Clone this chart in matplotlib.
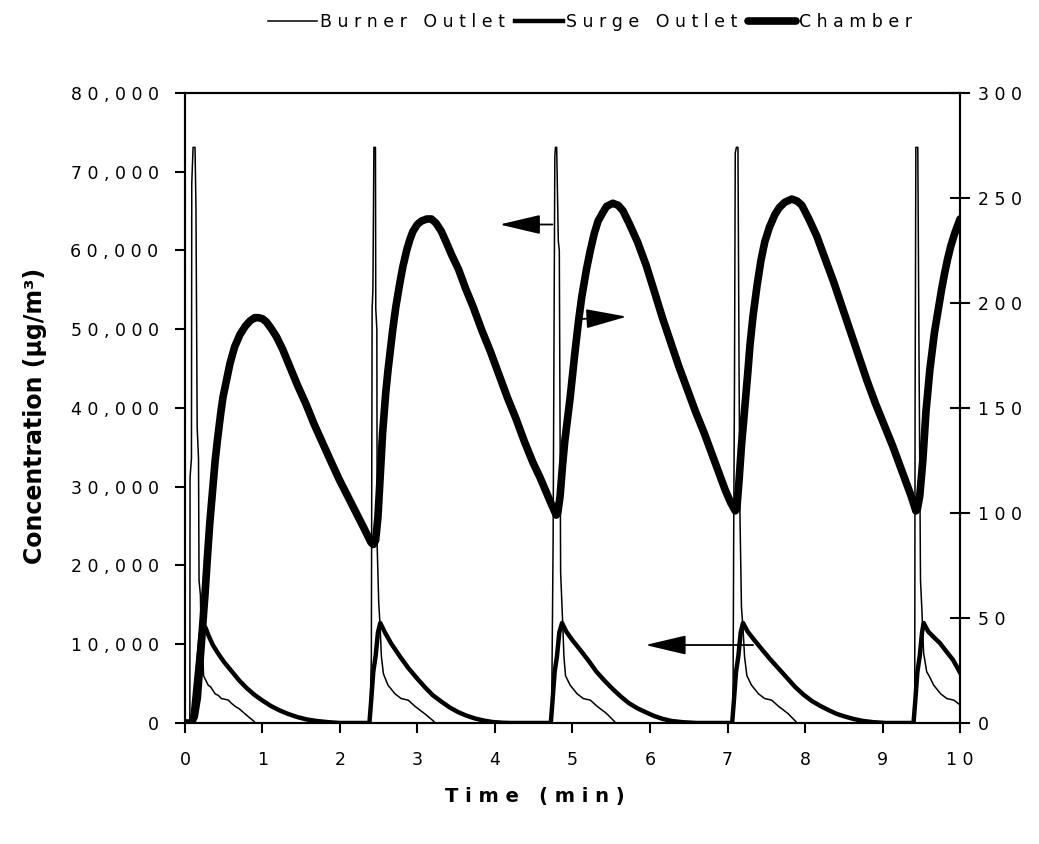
import matplotlib.pyplot as plt

# time (min) and concentration for each series
burner_t = [0.0, 0.063, 0.066, 0.084, 0.088, 0.105, 0.130, 0.142, 0.158, 0.175, 0.182, 0.200, 0.205,
            0.215, 0.235, 0.24, 0.30, 0.33, 0.39, 0.43, 0.47, 0.52, 0.56, 0.60, 0.65, 0.70, 0.77, 0.83,
            0.88, 0.91,
            2.385, 2.395, 2.405, 2.415, 2.425, 2.438, 2.458, 2.462, 2.476, 2.48, 2.50, 2.515, 2.535, 2.56,
            2.57, 2.62, 2.71, 2.79, 2.88, 2.97, 3.09, 3.20, 3.23,
            4.73, 4.75, 4.772, 4.78, 4.796, 4.817, 4.83, 4.847, 4.873, 4.89, 4.91, 4.97, 5.06, 5.14,
            5.23, 5.32, 5.44, 5.53, 5.56,
            7.07, 7.08, 7.09, 7.10, 7.115, 7.135, 7.15, 7.16, 7.18, 7.20, 7.22, 7.25, 7.31, 7.40, 7.48,
            7.57, 7.66, 7.78, 7.87, 7.90,
            9.415, 9.42, 9.43, 9.455, 9.47, 9.49, 9.51, 9.53, 9.57, 9.60, 9.66, 9.75, 9.83, 9.92, 10.0]
burner_v = [0, 0, 31200, 33600, 68500, 73100, 73100, 65600, 37500, 33600, 18100, 16200, 12800,
            9000, 7500, 6000, 4800, 4600, 3700, 3500, 3100, 3000, 2900, 2500, 2100, 1800, 1200, 700,
            300, 0,
            0, 4000, 8400, 52600, 55000, 73100, 73100, 52600, 50000, 22500, 15300, 12800, 8400, 6300,
            6000, 4800, 3700, 3100, 2900, 2100, 1200, 300, 0,
            0, 23000, 71900, 73100, 73100, 61200, 60000, 19100, 12800, 8400, 6000, 4800, 3700, 3100,
            2900, 2100, 1200, 300, 0,
            0, 24400, 43300, 72400, 73100, 73100, 43000, 26800, 14700, 12000, 8400, 6000, 4800, 3700,
            3100, 2900, 2100, 1200, 300, 0,
            0, 39500, 73100, 73100, 48000, 18100, 13900, 8900, 6500, 6000, 4800, 3700, 3100, 2900, 2300]

surge_t = [0.0, 0.08, 0.10, 0.12, 0.16, 0.20, 0.22, 0.24, 0.27, 0.30, 0.36, 0.43, 0.50, 0.60, 0.70,
           0.80, 0.90, 1.00, 1.11, 1.22, 1.33, 1.45, 1.57, 1.70, 1.85, 2.00,
           2.38, 2.40, 2.43, 2.46, 2.49, 2.52, 2.58, 2.66, 2.77, 2.88, 3.00, 3.10, 3.20, 3.31,
           3.42, 3.53, 3.64, 3.75, 3.86, 3.97, 4.10, 4.20, 4.72, 4.74, 4.77, 4.80, 4.83, 4.865, 4.92,
           5.00, 5.09, 5.20, 5.31, 5.42, 5.52, 5.63, 5.73, 5.84, 5.95, 6.05, 6.16, 6.28, 6.42, 6.60,
           7.06, 7.08, 7.11, 7.14, 7.17, 7.20, 7.26, 7.34, 7.44, 7.55, 7.66, 7.77, 7.87, 7.98, 8.09,
           8.20, 8.31, 8.41, 8.52, 8.63, 8.74, 8.88, 9.04,
           9.40, 9.42, 9.45, 9.48, 9.51, 9.53, 9.59, 9.66, 9.74, 9.83, 9.91, 10.0]
surge_v = [0, 0, 1000, 3000, 7000, 11000, 12000, 12500, 12000, 11200, 9900, 8800, 7800, 6600, 5400,
           4400, 3550, 2850, 2150, 1600, 1150, 750, 450, 250, 100, 0,
           0, 2500, 6500, 8500, 11500, 12700, 11500, 10100, 8500, 7000, 5600, 4500, 3500, 2700,
           1950, 1350, 900, 550, 300, 120, 30, 0, 0, 2500, 6500, 8500, 11500, 12700, 11600,
           10500, 9400, 8000, 6500, 5300, 4300, 3300, 2500, 1850, 1340, 900, 530, 250, 100, 0,
           0, 2500, 6500, 8500, 11500, 12700, 11600, 10600, 9400, 8100, 6900, 5700, 4600, 3600, 2780,
           2150, 1600, 1150, 800, 500, 270, 100, 0,
           0, 2500, 6500, 8500, 11500, 12700, 11600, 10900, 10150, 9000, 8000, 6400]

chamber_t = [0.0, 0.08, 0.12, 0.16, 0.20, 0.23, 0.26, 0.29, 0.32, 0.36, 0.39, 0.42, 0.46, 0.49, 0.54,
             0.58, 0.64, 0.71, 0.78, 0.84, 0.90, 0.95, 1.00, 1.05, 1.11, 1.18, 1.26, 1.35, 1.45, 1.56,
             1.67, 1.78, 1.89, 1.99, 2.10, 2.21, 2.32, 2.40, 2.43, 2.46,
             2.49, 2.52, 2.55, 2.59, 2.62, 2.68, 2.72, 2.77, 2.81, 2.86, 2.90, 2.94, 3.00, 3.05, 3.12,
             3.18, 3.24, 3.31, 3.37, 3.44, 3.53, 3.62, 3.72, 3.83, 3.94, 4.05, 4.16, 4.27, 4.38, 4.49,
             4.58, 4.66, 4.73, 4.79, 4.81,
             4.84, 4.87, 4.90, 4.94, 4.97, 5.03, 5.08, 5.12, 5.18, 5.23, 5.28, 5.33, 5.39, 5.44, 5.52,
             5.59, 5.65, 5.73, 5.84, 5.95, 6.06, 6.16, 6.27, 6.37, 6.48, 6.59, 6.70, 6.80, 6.89, 6.97,
             7.04, 7.10, 7.12,
             7.15, 7.18, 7.23, 7.26, 7.29, 7.33, 7.38, 7.43, 7.48, 7.54, 7.61, 7.67, 7.74, 7.83, 7.90,
             7.96, 8.05, 8.15, 8.26, 8.37, 8.48, 8.59, 8.70, 8.80, 8.91, 9.02, 9.13, 9.22, 9.30, 9.37,
             9.43, 9.45,
             9.48, 9.52, 9.56, 9.61, 9.67, 9.72, 9.76, 9.80, 9.84, 9.88, 9.93, 9.97, 10.0]
chamber_v = [0, 0, 3, 12, 32, 47, 62, 79, 95, 112, 125, 135, 147, 155, 164,
             171, 179, 185, 189, 191.5, 193, 193, 192.5, 191, 188, 184, 178, 170, 161, 152,
             142, 133, 124, 116, 108, 100, 92, 86, 85, 87,
             98, 118, 138, 157, 168, 187, 198, 209, 217, 225, 230, 234, 237.5, 239, 240,
             240, 238, 234, 229, 223, 216, 207, 198, 187, 177, 166, 155, 145, 134, 124,
             117, 110, 104, 99, 100,
             108, 122, 134, 146, 155, 176, 192, 203, 216, 225, 233, 239, 243, 246, 247.5,
             246.5, 244, 238, 229, 218, 205, 193, 181, 170, 159, 148, 138, 128, 119, 111,
             105, 101, 102,
             116, 132, 153, 166, 180, 194, 208, 220, 229, 236, 242, 245.5, 248, 249.5, 248.5,
             246.5, 240, 232, 221, 210, 198, 186, 174, 163, 152, 142, 132, 123, 115, 108,
             101, 102,
             108, 125, 148, 168, 186, 197, 206, 214, 221, 227, 233, 237, 240]

left_ticks = [0, 10000, 20000, 30000, 40000, 50000, 60000, 70000, 80000]
right_ticks = [0, 50, 100, 150, 200, 250, 300]
x_ticks = [0, 1, 2, 3, 4, 5, 6, 7, 8, 9, 10]


def spaced(s, sep=' '):
    return sep.join(s)


plt.rcParams['font.family'] = ['DejaVu Sans']

fig = plt.figure(figsize=(10.39, 8.44), dpi=100)
ax = fig.add_axes([0.178, 0.1434, 0.746, 0.7464])
ax2 = ax.twinx()

l1, = ax.plot(burner_t, burner_v, color='black', lw=1.1, label='Burner Outlet')
l2, = ax.plot(surge_t, surge_v, color='black', lw=3.2, solid_joinstyle='round', label='Surge Outlet')
l3, = ax2.plot(chamber_t, chamber_v, color='black', lw=5.5, solid_joinstyle='round',
               solid_capstyle='round', label='Chamber')

ax.set_xlim(0, 10)
ax.set_ylim(0, 80000)
ax2.set_ylim(0, 300)

ax.set_xticks(x_ticks, labels=[spaced(str(v)) for v in x_ticks])
ax.set_yticks(left_ticks, labels=[spaced(f'{v:,}') for v in left_ticks])
ax2.set_yticks(right_ticks, labels=[spaced(str(v)) for v in right_ticks])

for a in (ax, ax2):
    for sp in a.spines.values():
        sp.set_linewidth(1.5)
ax.tick_params(axis='both', direction='out', length=7, width=1.5, pad=12, labelsize=12.5)
ax.tick_params(axis='x', pad=13)
ax2.tick_params(axis='y', direction='inout', length=14, width=1.5, pad=6, labelsize=12.5)

ax.set_xlabel(spaced('Time (min)'), fontsize=14, fontweight='bold')
ax.xaxis.set_label_coords(0.452, -0.117)
ax.xaxis.label.set_va('center')
ax.set_ylabel('Concentration (µg/m³)', fontsize=17, fontweight='bold')
ax.yaxis.set_label_coords(-0.193, 0.487)
ax.yaxis.label.set_va('center')

arrow = dict(arrowstyle='-|>,head_length=1.7,head_width=0.4', color='black', lw=1.3,
             mutation_scale=15, shrinkA=0, shrinkB=0)
ax2.annotate('', xy=(4.06, 63300), xytext=(4.74, 63300), xycoords=ax.transData,
             textcoords=ax.transData, arrowprops=arrow)
ax2.annotate('', xy=(5.70, 51600), xytext=(5.10, 51300), xycoords=ax.transData,
             textcoords=ax.transData, arrowprops=arrow)
ax2.annotate('', xy=(5.94, 9900), xytext=(7.33, 9900), xycoords=ax.transData,
             textcoords=ax.transData, arrowprops=arrow)

fig.legend([l1, l2, l3], [spaced(l.get_label()) for l in (l1, l2, l3)],
           loc='center', bbox_to_anchor=(0.568, 0.974), ncol=3, frameon=False,
           handlelength=2.8, handletextpad=0.15, columnspacing=0.6, fontsize=12.5)

fig.savefig('out.png', dpi=100)
